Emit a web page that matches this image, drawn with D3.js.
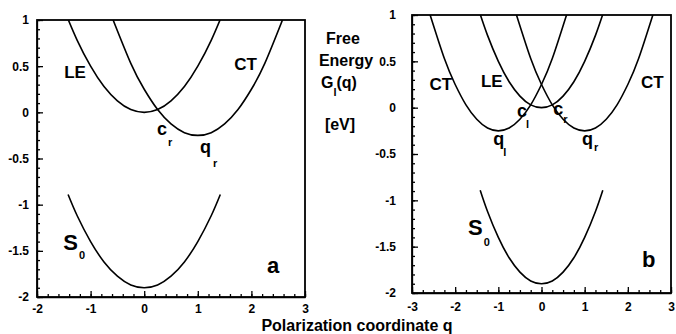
<!DOCTYPE html>
<html>
<head>
<meta charset="utf-8">
<script src="https://cdn.jsdelivr.net/npm/d3@7/dist/d3.min.js"></script>
<style>
body { margin: 0; background: #fff; }
text { font-family: "Liberation Sans", Arial, sans-serif; font-weight: bold; fill: #000; }
</style>
</head>
<body>
<svg id="chart" width="676" height="334"></svg>
<script>
// tick values
var yTicks = [-2, -1.5, -1, -0.5, 0, 0.5, 1];
var xTicksA = [-2, -1, 0, 1, 2, 3];
var xTicksB = [-3, -2, -1, 0, 1, 2, 3];

// LE state (same in both panels)
var leQ = [-1.45, -1.25, -1, -0.75, -0.5, -0.25, 0, 0.25, 0.5, 0.75, 1, 1.25, 1.45];
var leG = [1.05, 0.78, 0.5, 0.28, 0.125, 0.03, 0, 0.03, 0.125, 0.28, 0.5, 0.78, 1.05];

// CT state, minimum on the right (q_r)
var ctRQ = [-0.6, -0.25, 0, 0.25, 0.5, 0.75, 1, 1.25, 1.5, 1.75, 2, 2.25, 2.6];
var ctRG = [1.03, 0.53, 0.25, 0.03, -0.125, -0.22, -0.25, -0.22, -0.125, 0.03, 0.25, 0.53, 1.03];

// CT state, minimum on the left (q_l), only in panel b
var ctLQ = [-2.6, -2.25, -2, -1.75, -1.5, -1.25, -1, -0.75, -0.5, -0.25, 0, 0.25, 0.6];
var ctLG = [1.03, 0.53, 0.25, 0.03, -0.125, -0.22, -0.25, -0.22, -0.125, 0.03, 0.25, 0.53, 1.03];

// ground state S0
var s0Q = [-1.42, -1.25, -1, -0.75, -0.5, -0.25, 0, 0.25, 0.5, 0.75, 1, 1.25, 1.42];
var s0G = [-0.89, -1.12, -1.4, -1.62, -1.775, -1.87, -1.9, -1.87, -1.775, -1.62, -1.4, -1.12, -0.89];

var svg = d3.select("#chart");

function pts(qs, gs) {
  return qs.map(function(q, i) { return [q, gs[i]]; });
}

function drawPanel(cfg) {
  var x = d3.scaleLinear().domain(cfg.xDomain).range(cfg.xRange);
  var y = d3.scaleLinear().domain([-2, 1]).range(cfg.yRange);
  var g = svg.append("g");

  // minor ticks
  g.append("g")
    .attr("transform", "translate(" + cfg.xRange[0] + ",0)")
    .call(d3.axisLeft(y).tickValues(d3.range(-2, 1.001, cfg.yMinor)).tickSize(-3).tickFormat(""))
    .call(function(s) { s.select(".domain").remove(); });
  g.append("g")
    .attr("transform", "translate(0," + cfg.yRange[0] + ")")
    .call(d3.axisBottom(x).tickValues(d3.range(cfg.xDomain[0], cfg.xDomain[1] + 0.001, cfg.xMinor)).tickSize(-3).tickFormat(""))
    .call(function(s) { s.select(".domain").remove(); });

  // major ticks + labels
  g.append("g")
    .attr("transform", "translate(" + cfg.xRange[0] + ",0)")
    .call(d3.axisLeft(y).tickValues(yTicks).tickSize(-6).tickSizeOuter(0)
      .tickPadding(cfg.yPad).tickFormat(function(d) { return String(d); }));
  g.append("g")
    .attr("transform", "translate(0," + cfg.yRange[0] + ")")
    .call(d3.axisBottom(x).tickValues(cfg.xTicks).tickSize(-6).tickSizeOuter(0)
      .tickPadding(cfg.xPad).tickFormat(function(d) { return String(d); }));
  g.selectAll(".tick text").style("font-size", "12px").style("font-family", "'Liberation Sans', Arial, sans-serif").style("font-weight", "bold");
  g.selectAll(".tick line, .domain").attr("stroke", "#000").attr("stroke-width", 1.3);

  // frame
  g.append("rect")
    .attr("x", cfg.xRange[0]).attr("y", cfg.yRange[1])
    .attr("width", cfg.xRange[1] - cfg.xRange[0])
    .attr("height", cfg.yRange[0] - cfg.yRange[1])
    .attr("fill", "none").attr("stroke", "#000").attr("stroke-width", 1.8);

  // curves, clipped to the frame
  var clipId = "clip" + cfg.name;
  svg.append("clipPath").attr("id", clipId).append("rect")
    .attr("x", cfg.xRange[0]).attr("y", cfg.yRange[1])
    .attr("width", cfg.xRange[1] - cfg.xRange[0])
    .attr("height", cfg.yRange[0] - cfg.yRange[1]);

  var line = d3.line()
    .x(function(d) { return x(d[0]); })
    .y(function(d) { return y(d[1]); })
    .curve(d3.curveNatural);

  g.append("g").attr("clip-path", "url(#" + clipId + ")")
    .selectAll("path").data(cfg.curves).enter().append("path")
    .attr("d", line)
    .attr("fill", "none").attr("stroke", "#000").attr("stroke-width", 1.6);

  // labels
  cfg.labels.forEach(function(l) {
    var t = g.append("text")
      .attr("x", x(l.q)).attr("y", y(l.g))
      .attr("text-anchor", l.anchor || "start")
      .style("font-size", l.size + "px")
      .text(l.t);
    if (l.sub) {
      t.append("tspan").attr("dx", l.sdx || 0).attr("dy", l.sdy || 10)
        .style("font-size", "11px").text(l.sub);
    }
  });
}

drawPanel({
  name: "a",
  xDomain: [-2, 3], xRange: [37, 305], yRange: [297, 20],
  xTicks: xTicksA, yMinor: 0.1, xMinor: 0.2, yPad: 8, xPad: 7,
  curves: [pts(leQ, leG), pts(ctRQ, ctRG), pts(s0Q, s0G)],
  labels: [
    {t: "LE", q: -1.29, g: 0.37, size: 17, anchor: "middle"},
    {t: "CT", q: 1.89, g: 0.46, size: 17, anchor: "middle"},
    {t: "c", sub: "r", q: 0.24, g: -0.245, size: 18, sdx: 1, sdy: 11},
    {t: "q", sub: "r", q: 1.04, g: -0.44, size: 18, sdx: 2, sdy: 14},
    {t: "S", sub: "0", q: -1.51, g: -1.49, size: 22, sdx: 1, sdy: 9},
    {t: "a", q: 2.29, g: -1.74, size: 22}
  ]
});

drawPanel({
  name: "b",
  xDomain: [-3, 3], xRange: [412, 671], yRange: [293, 15],
  xTicks: xTicksB, yMinor: 0.1, xMinor: 0.25, yPad: 16, xPad: 9,
  curves: [pts(ctLQ, ctLG), pts(leQ, leG), pts(ctRQ, ctRG), pts(s0Q, s0G)],
  labels: [
    {t: "CT", q: -2.33, g: 0.19, size: 17, anchor: "middle"},
    {t: "LE", q: -1.15, g: 0.22, size: 17, anchor: "middle"},
    {t: "CT", q: 2.57, g: 0.21, size: 17, anchor: "middle"},
    {t: "c", sub: "l", q: -0.57, g: -0.10, size: 18, sdx: -1, sdy: 11},
    {t: "c", sub: "r", q: 0.27, g: -0.08, size: 18, sdx: 0, sdy: 8},
    {t: "q", sub: "l", q: -1.12, g: -0.40, size: 18, sdx: -1, sdy: 11},
    {t: "q", sub: "r", q: 0.94, g: -0.40, size: 18, sdx: 1, sdy: 6},
    {t: "S", sub: "0", q: -1.70, g: -1.37, size: 22, sdx: 1, sdy: 11},
    {t: "b", q: 2.33, g: -1.72, size: 22}
  ]
});

// y title between the panels
var title = svg.append("text").attr("text-anchor", "middle").style("font-size", "16px");
title.append("tspan").attr("x", 343).attr("y", 44).text("Free");
title.append("tspan").attr("x", 346).attr("y", 66).text("Energy");
var gq = svg.append("text").attr("x", 321).attr("y", 88).style("font-size", "16px").text("G");
gq.append("tspan").attr("dy", 8).style("font-size", "11px").text("l");
gq.append("tspan").attr("dy", -8).text("(q)");
svg.append("text").attr("x", 340).attr("y", 130).attr("text-anchor", "middle")
  .style("font-size", "16px").text("[eV]");

// x title
svg.append("text").attr("x", 357).attr("y", 331).attr("text-anchor", "middle")
  .style("font-size", "16px").text("Polarization coordinate q");
</script>
</body>
</html>
